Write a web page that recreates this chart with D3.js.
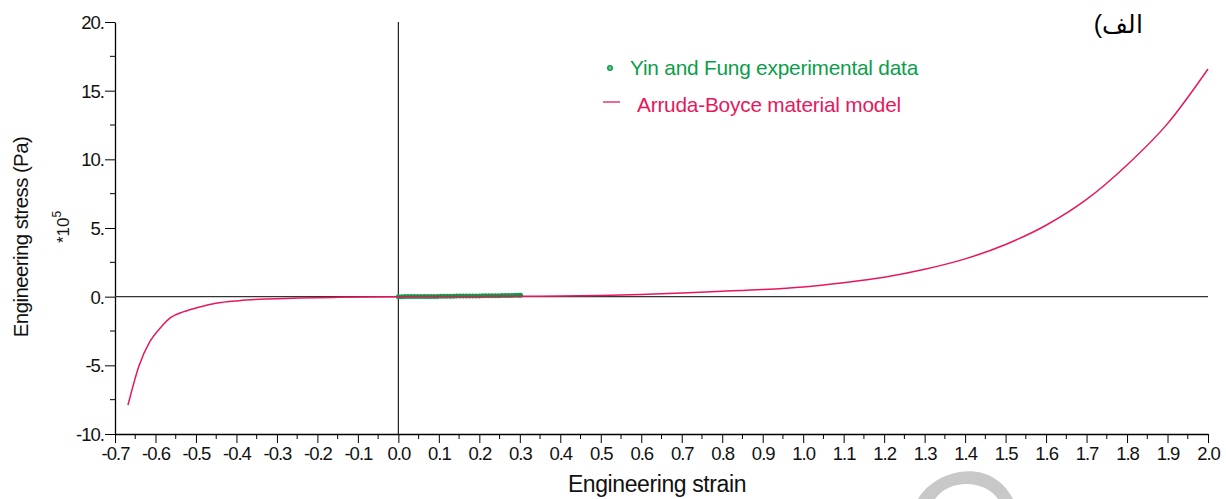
<!DOCTYPE html>
<html><head><meta charset="utf-8">
<script src="https://cdn.jsdelivr.net/npm/d3@7"></script>
<style>body{margin:0;background:#fff;} text{font-family:"Liberation Sans",Arial,sans-serif;}</style>
</head><body>
<svg id="c" width="1226" height="499"></svg>
<script>
// Arruda-Boyce model curve
const modelStrain = [-0.668,-0.641,-0.614,-0.587,-0.563,-0.53,-0.493,-0.451,-0.394,-0.327,-0.245,-0.15,0,0.1,0.2,0.3,0.4,0.5,0.6,0.7,0.8,0.9,1.0,1.1,1.2,1.3,1.4,1.5,1.6,1.7,1.8,1.9,2.0];
const modelStress = [-7.9,-5.06,-3.28,-2.24,-1.53,-1.09,-0.77,-0.48,-0.29,-0.17,-0.1,-0.05,0,0.01,0.02,0.03,0.04,0.08,0.16,0.27,0.39,0.52,0.71,1.02,1.41,1.99,2.75,3.80,5.20,7.08,9.59,12.6,16.58];
// Yin and Fung experimental data
const expStrain = [0.000,0.008,0.016,0.024,0.032,0.040,0.048,0.056,0.064,0.072,0.080,0.088,0.096,0.104,0.112,0.120,0.128,0.136,0.144,0.152,0.160,0.168,0.176,0.184,0.192,0.200,0.208,0.216,0.224,0.232,0.240,0.248,0.256,0.264,0.272,0.280,0.288,0.296,0.302];
const expStress = [0.00,0.00,0.01,0.01,0.01,0.01,0.01,0.02,0.02,0.02,0.02,0.02,0.02,0.03,0.03,0.03,0.03,0.03,0.04,0.04,0.04,0.04,0.05,0.05,0.05,0.05,0.06,0.06,0.06,0.07,0.07,0.07,0.08,0.08,0.09,0.09,0.10,0.10,0.11];
const xTicks = [-0.7,-0.6,-0.5,-0.4,-0.3,-0.2,-0.1,0.0,0.1,0.2,0.3,0.4,0.5,0.6,0.7,0.8,0.9,1.0,1.1,1.2,1.3,1.4,1.5,1.6,1.7,1.8,1.9,2.0];
const yTicks = [-10,-5,0,5,10,15,20];
const yTickLabels = ["-10.","-5.","0.","5.","10.","15.","20."];
const legendLabels = ["Yin and Fung experimental data","Arruda-Boyce material model"];

const green = "#0a9e4a", red = "#e8175d";
const svg = d3.select("#c");
const L = 115, R = 1208, T = 22, B = 434;
const x = d3.scaleLinear().domain([-0.7, 2.0]).range([L, R]);
const y = d3.scaleLinear().domain([-10, 20]).range([B, T]);

// x axis
const xMinor = d3.range(-0.65, 2.0, 0.1);
const xa = svg.append("g").attr("transform", `translate(0,${B})`);
xa.call(d3.axisBottom(x).tickValues(xTicks).tickFormat(d => d.toFixed(1)).tickSize(9).tickSizeOuter(0));
xa.append("g").selectAll("line").data(xMinor).join("line")
  .attr("x1", d => x(d)).attr("x2", d => x(d)).attr("y1", 0).attr("y2", 5).attr("stroke", "#000");
xa.select(".domain").attr("stroke", "#000").attr("stroke-width", 1.3);
xa.selectAll(".tick text").attr("font-size", 18.5).attr("y", 26).attr("dy", 0).attr("fill", "#111")
  .attr("font-family", "Liberation Sans").attr("letter-spacing", "-1");

// y axis
const yMinor = [-7.5,-2.5,2.5,7.5,12.5,17.5];
const ya = svg.append("g").attr("transform", `translate(${L},0)`);
ya.call(d3.axisLeft(y).tickValues(yTicks).tickFormat((d,i) => yTickLabels[i]).tickSize(10).tickSizeOuter(0));
ya.append("g").selectAll("line").data(yMinor).join("line")
  .attr("y1", d => y(d)).attr("y2", d => y(d)).attr("x1", 0).attr("x2", -5).attr("stroke", "#000");
ya.select(".domain").attr("stroke", "#000").attr("stroke-width", 1.3);
ya.selectAll(".tick text").attr("font-size", 18.5).attr("x", -11).attr("dy", "0.35em").attr("fill", "#111")
  .attr("font-family", "Liberation Sans").attr("letter-spacing", "-1");

// zero lines
svg.append("line").attr("x1", x(-0.7)).attr("x2", x(2.0)).attr("y1", y(0)).attr("y2", y(0))
  .attr("stroke", "#333").attr("stroke-width", 1.4);
svg.append("line").attr("x1", x(0)).attr("x2", x(0)).attr("y1", y(20)).attr("y2", y(-10))
  .attr("stroke", "#222").attr("stroke-width", 1.2);

// experimental points
svg.append("g").selectAll("circle").data(expStrain).join("circle")
  .attr("cx", d => x(d)).attr("cy", (d,i) => y(expStress[i])).attr("r", 2.5).attr("fill", green);

// model line
const line = d3.line().x(d => x(d[0])).y(d => y(d[1])).curve(d3.curveMonotoneX);
svg.append("path").datum(modelStrain.map((s,i) => [s, modelStress[i]]))
  .attr("d", line).attr("fill", "none").attr("stroke", red).attr("stroke-width", 1.5);

// legend
svg.append("circle").attr("cx", 610).attr("cy", 68).attr("r", 2.2).attr("fill", "#7fcf9f").attr("stroke", green).attr("stroke-width", 1.6);
svg.append("text").attr("x", 630).attr("y", 75).attr("font-size", 20.8).attr("fill", green).attr("letter-spacing", "-0.2").text(legendLabels[0]);
svg.append("line").attr("x1", 603).attr("x2", 620).attr("y1", 102).attr("y2", 102).attr("stroke", red).attr("stroke-width", 1.3);
svg.append("text").attr("x", 637).attr("y", 112).attr("font-size", 20.8).attr("fill", red).attr("letter-spacing", "-0.2").text(legendLabels[1]);

// axis titles
svg.append("text").attr("x", 657).attr("y", 492).attr("text-anchor", "middle").attr("font-size", 23)
  .attr("letter-spacing", "-0.4").attr("fill", "#111").text("Engineering strain");
svg.append("text").attr("transform", "translate(28,237) rotate(-90)").attr("text-anchor", "middle")
  .attr("font-size", 20.5).attr("letter-spacing", "-0.6").attr("fill", "#111").text("Engineering stress (Pa)");
const sc = svg.append("text").attr("transform", "translate(69,227) rotate(-90)").attr("text-anchor", "middle")
  .attr("font-size", 17).attr("fill", "#111");
sc.append("tspan").text("*10");
sc.append("tspan").attr("dy", -8).attr("font-size", 12).text("5");

// label
svg.append("text").attr("x", 1143).attr("y", 33).attr("text-anchor", "start").attr("direction", "rtl")
  .attr("font-family", "DejaVu Sans").attr("font-size", 25).attr("fill", "#000").text("الف)");

// watermark arc
svg.append("path").attr("d", "M918,499 C935,470 990,455 1013,499 L998,499 C985,480 950,478 935,499 Z").attr("fill", "#c8c8c8");
</script>
</body></html>
